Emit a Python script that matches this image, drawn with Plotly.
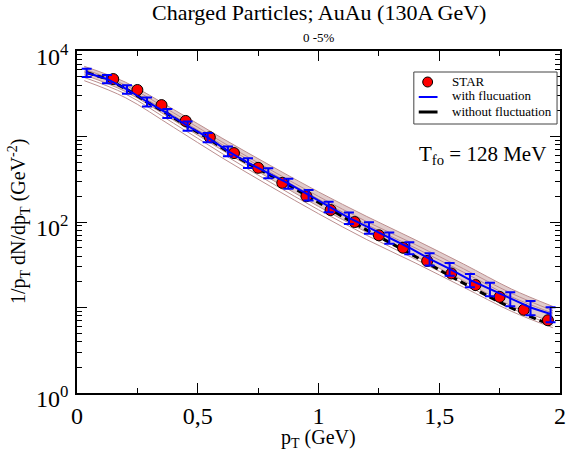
import plotly.graph_objects as go

# ---------------- data ----------------
star_x = [0.15, 0.25, 0.35, 0.45, 0.55, 0.65, 0.75, 0.85, 0.95, 1.05,
          1.15, 1.25, 1.35, 1.45, 1.55, 1.65, 1.75, 1.85, 1.95]
star_y = [4700, 3500, 2330, 1520, 980, 640, 430, 287, 200, 138,
          100, 70, 50, 35, 25, 18.3, 13.3, 9.4, 7.1]

fl_x = [0.04, 0.124, 0.207, 0.29, 0.374, 0.458, 0.541, 0.625, 0.708, 0.792,
        0.875, 0.959, 1.042, 1.126, 1.209, 1.293, 1.376, 1.46, 1.543, 1.627,
        1.71, 1.794, 1.878, 1.961]
fl_y = [5570, 4710, 3570, 2550, 1870, 1330, 977, 676, 493, 375,
        283, 207, 151, 112, 86, 65.5, 50, 37, 28.3, 21,
        16.5, 12.7, 10, 8.4]
fl_err = [610, 520, 410, 305, 225, 165, 122, 88, 64, 51,
          38, 29, 21, 17, 13, 10, 8, 6.1, 4.8, 3.7,
          3.0, 2.35, 1.9, 1.7]

nofl_y = [5600, 4720, 3560, 2530, 1850, 1310, 960, 665, 485, 365,
          273, 198, 143, 105, 78, 58, 43.5, 32, 23.5, 17.5,
          13.2, 10, 7.8, 6.3]

band_x = [0.03, 0.2, 0.4, 0.6, 0.8, 1.0, 1.2, 1.4, 1.6, 1.8, 1.97]
band_top = [6620, 4325, 2070, 959, 459, 225, 116, 62, 32.3, 16.4, 10.3]
band_mid1 = [6110, 3990, 1890, 865, 409, 199, 101, 54.6, 28.4, 14.6, 9.2]
band_mid2 = [5700, 3720, 1760, 807, 382, 185, 93, 49.8, 25.9, 13.3, 8.6]
band_bottom = [5260, 3360, 1550, 695, 321, 152, 75.7, 40, 20.6, 10.4, 6.7]
band_low1 = [4900, 3150, 1430, 635, 292, 139, 69.8, 36.9, 19, 9.75, 6.2]
band_low2 = [4500, 2850, 1280, 565, 262, 125, 62.2, 33.3, 17.3, 9.0, 5.8]

legend_labels = ["STAR", "with flucuation", "without fluctuation"]

x_tickvals = [0, 0.5, 1, 1.5, 2]
x_ticktext = ["0", "0,5", "1", "1,5", "2"]
y_tickvals = [1, 10, 100, 1000, 10000]
y_ticktext = ["10<sup>0</sup>", "", "10<sup>2</sup>", "", "10<sup>4</sup>"]

# ---------------- figure ----------------
SERIF = "Liberation Serif, Times New Roman, serif"
RB = "#bc8f8f"
fig = go.Figure()

fig.add_trace(go.Scatter(x=band_x, y=band_bottom, mode="lines",
                         line=dict(color=RB, width=1, shape="spline"),
                         showlegend=False, hoverinfo="skip"))
fig.add_trace(go.Scatter(x=band_x, y=band_top, mode="lines", fill="tonexty",
                         fillcolor="rgba(188,143,143,0.45)",
                         line=dict(color=RB, width=1, shape="spline"),
                         showlegend=False, hoverinfo="skip"))
for b in (band_mid1, band_mid2, band_low1, band_low2):
    fig.add_trace(go.Scatter(x=band_x, y=b, mode="lines",
                             line=dict(color=RB, width=1, shape="spline"),
                             showlegend=False, hoverinfo="skip"))

fig.add_trace(go.Scatter(x=fl_x, y=nofl_y, mode="lines",
                         name=legend_labels[2], showlegend=False,
                         line=dict(color="black", width=3, dash="7px,4px")))

fig.add_trace(go.Scatter(x=star_x, y=star_y, mode="markers",
                         name=legend_labels[0], showlegend=False,
                         marker=dict(color="red", size=11,
                                     line=dict(color="black", width=1))))

fig.add_trace(go.Scatter(x=fl_x, y=fl_y, mode="lines",
                         name=legend_labels[1], showlegend=False,
                         line=dict(color="blue", width=2),
                         error_y=dict(type="data", array=fl_err, color="blue",
                                      thickness=2, width=5)))

tickfont = dict(family=SERIF, size=24, color="black")
axis_common = dict(showline=True, linecolor="black", linewidth=1.5,
                   mirror="allticks", ticks="inside", ticklen=10,
                   tickcolor="black", showgrid=False, zeroline=False)

fig.update_layout(
    xaxis=dict(range=[0, 2], tickvals=x_tickvals, ticktext=x_ticktext,
               tickfont=tickfont,
               minor=dict(ticks="inside", ticklen=5, tickcolor="black",
                          tickvals=[0.25, 0.75, 1.25, 1.75]),
               **axis_common),
    yaxis=dict(type="log", range=[0, 4], tickvals=y_tickvals,
               ticktext=y_ticktext, tickfont=tickfont, ticklabelshift=6,
               ticklabelstandoff=2,
               minor=dict(ticks="inside", ticklen=5, tickcolor="black",
                          tickvals=[m * d for d in (1, 10, 100, 1000)
                                    for m in range(2, 10)]),
               **axis_common),
)

# manual legend (paper coordinates of the plot area)
W, H, L, B = 489.0, 342.0, 77.0, 393.0
def px(x):
    return (x - L) / W
def py(y):
    return (B - y) / H

shapes = [
    dict(type="rect", xref="paper", yref="paper", x0=px(418), x1=px(563),
         y0=py(124), y1=py(72), line=dict(color="#444", width=1),
         fillcolor="white", layer="above"),
    dict(type="circle", xref="paper", yref="paper", x0=px(427), x1=px(437),
         y0=py(87), y1=py(77), fillcolor="red",
         line=dict(color="black", width=1), layer="above"),
    dict(type="line", xref="paper", yref="paper", x0=px(423), x1=px(442),
         y0=py(97), y1=py(97), line=dict(color="blue", width=2),
         layer="above"),
    dict(type="line", xref="paper", yref="paper", x0=px(423), x1=px(442),
         y0=py(112), y1=py(112), line=dict(color="black", width=3),
         layer="above"),
]
legend_ann = [
    dict(text=t, x=px(455), y=py(yy), xref="paper", yref="paper",
         xanchor="left", yanchor="middle", showarrow=False,
         font=dict(family=SERIF, size=13))
    for t, yy in zip(legend_labels, (81, 96, 111))
]

fig.update_layout(
    width=570, height=450,
    margin=dict(l=77, r=4, t=51, b=57),
    paper_bgcolor="white", plot_bgcolor="white",
    font=dict(family=SERIF, color="black", size=20),
    showlegend=False,
    shapes=shapes,
    annotations=[
        dict(text="Charged Particles; AuAu (130A GeV)", x=0.5, y=1,
             xref="paper", yref="paper", yanchor="middle", yshift=39,
             showarrow=False, font=dict(family=SERIF, size=22)),
        dict(text="0 -5%", x=0.5, y=1, xref="paper", yref="paper",
             yanchor="middle", yshift=14, showarrow=False,
             font=dict(family=SERIF, size=13)),
        dict(text="T<sub>fo</sub> = 128 MeV", x=0.975, y=0.695,
             xref="paper", yref="paper", xanchor="right", yanchor="middle",
             showarrow=False, font=dict(family=SERIF, size=21)),
        dict(text="1/p<sub>T</sub> dN/dp<sub>T</sub> (GeV<sup>-2</sup>)",
             x=-0.12, y=0.5, xref="paper", yref="paper", textangle=-90,
             xanchor="center", yanchor="middle",
             showarrow=False, font=dict(family=SERIF, size=20)),
        dict(text="p<sub>T</sub> (GeV)", x=0.5, y=0, xref="paper",
             yref="paper", yanchor="middle", yshift=-45, showarrow=False,
             font=dict(family=SERIF, size=20)),
    ] + legend_ann,
)

fig.write_html("out.html")
